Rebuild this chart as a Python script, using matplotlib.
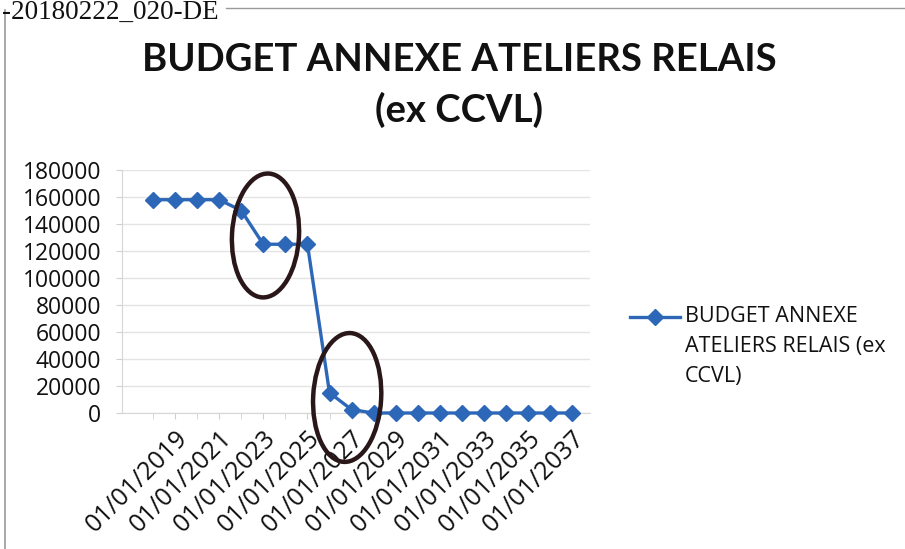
import matplotlib
matplotlib.use("Agg")
import matplotlib.pyplot as plt
from matplotlib.patches import Ellipse
from matplotlib.lines import Line2D
from matplotlib.transforms import ScaledTranslation

# data
years = list(range(2018, 2038))
values = [158000, 158000, 158000, 158000, 150000, 125000, 125000, 125000,
          15000, 2500, 0, 0, 0, 0, 0, 0, 0, 0, 0, 0]
tick_years = list(range(2019, 2038, 2))
tick_labels = [f"01/01/{y}" for y in tick_years]
y_ticks = list(range(0, 180001, 20000))

series_name = "BUDGET ANNEXE ATELIERS RELAIS (ex CCVL)"
legend_text = "BUDGET ANNEXE\nATELIERS RELAIS (ex\nCCVL)"

# hand-drawn circles on the scan (centre in data units, size in inches)
circles = [(5.1, 131500, 0.67, 1.24, -3), (8.8, 11500, 0.68, 1.29, -3)]

BLUE = "#2d67b8"
FONT = ["Open Sans", "DejaVu Sans"]

fig = plt.figure(figsize=(9.05, 5.49), dpi=100)
fig.patch.set_facecolor("white")
ax = fig.add_axes([122 / 905, 1 - 413 / 549, 468 / 905, 243 / 549])

x = list(range(len(years)))
ax.plot(x, values, color=BLUE, lw=2.4, marker="D", markersize=8,
        markeredgecolor=BLUE, markerfacecolor=BLUE, clip_on=False, zorder=3)

ax.set_xlim(-1.4, 19.8)
ax.set_ylim(0, 180000)
ax.set_yticks(y_ticks)
ax.set_yticklabels([str(v) for v in y_ticks], fontsize=16.5, family=FONT,
                   color="#111111")
ax.set_xticks([years.index(y) for y in tick_years])
ax.set_xticks(x, minor=True)
ax.set_xticklabels(tick_labels, rotation=45, ha="right", va="top",
                   rotation_mode="anchor", fontsize=18, family=FONT,
                   color="#111111")

ax.grid(axis="y", color="#e4e4e4", lw=1)
ax.set_axisbelow(True)
for s in ["top", "right"]:
    ax.spines[s].set_visible(False)
for s in ["left", "bottom"]:
    ax.spines[s].set_color("#d6d6d6")
ax.tick_params(axis="y", length=4, color="#d0d0d0", pad=11)
ax.tick_params(axis="x", which="both", length=4, color="#d0d0d0", pad=5)

for cx, cy, w, h, ang in circles:
    tr = fig.dpi_scale_trans + ScaledTranslation(cx, cy, ax.transData)
    ax.add_patch(Ellipse((0, 0), w, h, angle=ang, transform=tr, fill=False,
                         edgecolor="#2a1719", lw=3.2, clip_on=False, zorder=4))

# titles
tfont = ["Lato", "DejaVu Sans"]
fig.text(459 / 905, 1 - 60 / 549, "BUDGET ANNEXE ATELIERS RELAIS", ha="center",
         va="center", fontsize=27.5, fontweight="bold", family=tfont, color="#111111")
fig.text(459 / 905, 1 - 110 / 549, "(ex CCVL)", ha="center", va="center",
         fontsize=27.5, fontweight="bold", family=tfont, color="#111111")

# legend drawn by hand so the key sits on the first text line
ly = 1 - 317 / 549
fig.add_artist(Line2D([630 / 905, 655 / 905, 680 / 905], [ly, ly, ly],
                      color=BLUE, lw=2.4, marker="D", markersize=8,
                      markevery=[1], transform=fig.transFigure))
fig.text(685 / 905, 1 - 306 / 549, legend_text, ha="left", va="top",
         fontsize=15.5, family=FONT, linespacing=1.55, color="#111111")

# scan artefacts: file stamp and chart frame
fig.text(0.002, 1 - 19 / 549, "-20180222_020-DE", ha="left", va="baseline",
         fontsize=19.5, family=["Liberation Serif", "DejaVu Serif"], color="#111111")
fig.add_artist(Line2D([226 / 905, 1], [1 - 8 / 549, 1 - 8 / 549],
                      color="#9a9a9a", lw=1, transform=fig.transFigure))
fig.add_artist(Line2D([5 / 905, 5 / 905], [0, 1 - 10 / 549],
                      color="#9a9a9a", lw=1.2, transform=fig.transFigure))

fig.savefig("out.png", dpi=100)
